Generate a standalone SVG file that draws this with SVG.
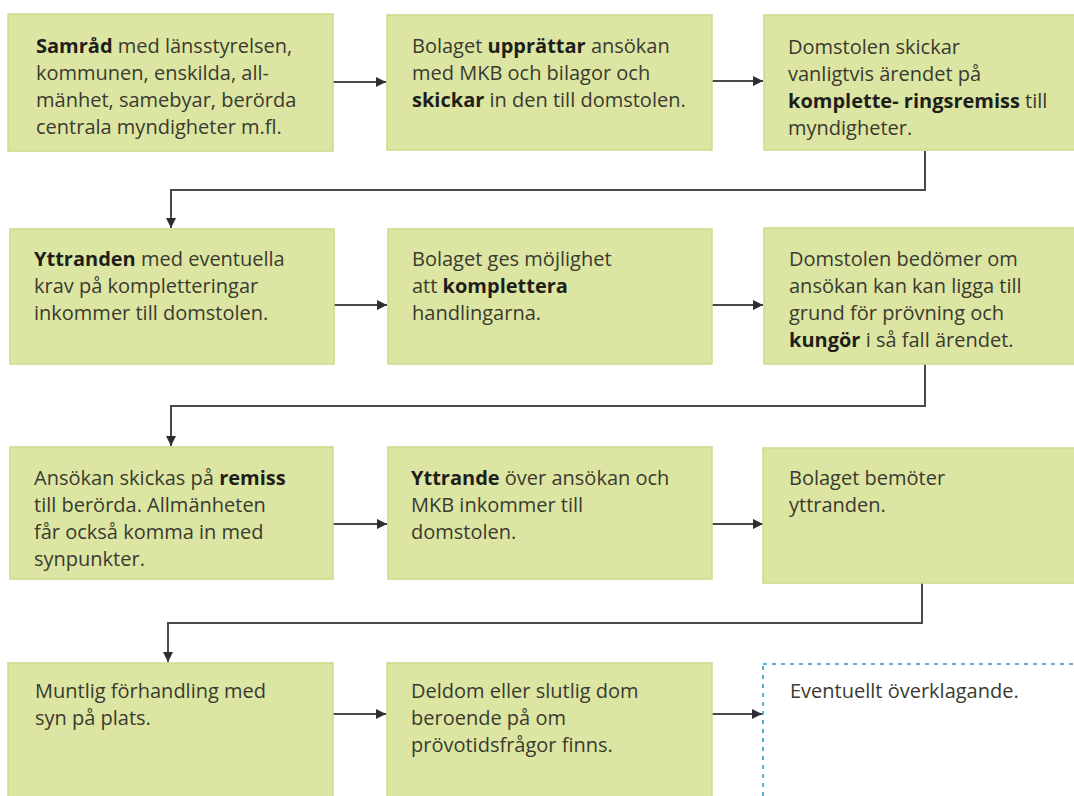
<svg xmlns="http://www.w3.org/2000/svg" width="1074" height="796" viewBox="0 0 1074 796">
<defs>
<style>
.box{fill:#dce6a2;stroke:#cbdb8a;stroke-width:1.5}
.dbox{fill:#ffffff;stroke:#5aaed8;stroke-width:2;stroke-dasharray:4 5}
.t{font-family:"Open Sans","Noto Sans","Liberation Sans",sans-serif;font-size:20px;fill:#3a3a30}
.b{font-weight:bold;fill:#1e1e1a}
.c{fill:none;stroke:#4a4a4a;stroke-width:2}
</style>
<marker id="ah" viewBox="0 0 10 10" refX="10" refY="5" markerWidth="5" markerHeight="5" orient="auto" markerUnits="strokeWidth">
<path d="M0,0 L10,5 L0,10 z" fill="#2e2e2e"/>
</marker>
</defs>
<rect width="1074" height="796" fill="#ffffff"/>

<g id="connectors">
<line class="c" x1="333" y1="82" x2="386" y2="82" marker-end="url(#ah)"/>
<line class="c" x1="712" y1="81" x2="763" y2="81" marker-end="url(#ah)"/>
<polyline class="c" points="925,151 925,190 171,190 171,228" marker-end="url(#ah)"/>
<line class="c" x1="334" y1="305" x2="387" y2="305" marker-end="url(#ah)"/>
<line class="c" x1="712" y1="305" x2="763" y2="305" marker-end="url(#ah)"/>
<polyline class="c" points="925,364 925,406 171,406 171,446" marker-end="url(#ah)"/>
<line class="c" x1="333" y1="524" x2="387" y2="524" marker-end="url(#ah)"/>
<line class="c" x1="712" y1="524" x2="763" y2="524" marker-end="url(#ah)"/>
<polyline class="c" points="922,583 922,623 168,623 168,662" marker-end="url(#ah)"/>
<line class="c" x1="333" y1="714" x2="386" y2="714" marker-end="url(#ah)"/>
<line class="c" x1="712" y1="714" x2="762" y2="714" marker-end="url(#ah)"/>
</g>

<g id="n1">
<rect class="box" x="8" y="14" width="325" height="137"/>
<text class="t" x="36" y="53"><tspan class="b">Samråd</tspan> med länsstyrelsen,</text>
<text class="t" x="36" y="80">kommunen, enskilda, all-</text>
<text class="t" x="36" y="107">mänhet, samebyar, berörda</text>
<text class="t" x="36" y="134">centrala myndigheter m.fl.</text>
</g>
<g id="n2">
<rect class="box" x="387" y="15" width="325" height="135"/>
<text class="t" x="412" y="53">Bolaget <tspan class="b">upprättar</tspan> ansökan</text>
<text class="t" x="412" y="80">med MKB och bilagor och</text>
<text class="t" x="412" y="107"><tspan class="b">skickar</tspan> in den till domstolen.</text>
</g>
<g id="n3">
<rect class="box" x="764" y="15" width="320" height="135"/>
<text class="t" x="788" y="54">Domstolen skickar</text>
<text class="t" x="788" y="81">vanligtvis ärendet på</text>
<text class="t" x="788" y="108"><tspan class="b">komplette- ringsremiss</tspan> till</text>
<text class="t" x="788" y="135">myndigheter.</text>
</g>

<g id="n4">
<rect class="box" x="10" y="229" width="324" height="135"/>
<text class="t" x="34" y="266"><tspan class="b">Yttranden</tspan> med eventuella</text>
<text class="t" x="34" y="293">krav på kompletteringar</text>
<text class="t" x="34" y="320">inkommer till domstolen.</text>
</g>
<g id="n5">
<rect class="box" x="388" y="229" width="324" height="135"/>
<text class="t" x="412" y="266">Bolaget ges möjlighet</text>
<text class="t" x="412" y="293">att <tspan class="b">komplettera</tspan></text>
<text class="t" x="412" y="320">handlingarna.</text>
</g>
<g id="n6">
<rect class="box" x="764" y="228" width="320" height="136"/>
<text class="t" x="789" y="266">Domstolen bedömer om</text>
<text class="t" x="789" y="293">ansökan kan kan ligga till</text>
<text class="t" x="789" y="320">grund för prövning och</text>
<text class="t" x="789" y="347"><tspan class="b">kungör</tspan> i så fall ärendet.</text>
</g>

<g id="n7">
<rect class="box" x="10" y="447" width="323" height="132"/>
<text class="t" x="34" y="485">Ansökan skickas på <tspan class="b">remiss</tspan></text>
<text class="t" x="34" y="512">till berörda. Allmänheten</text>
<text class="t" x="34" y="539">får också komma in med</text>
<text class="t" x="34" y="566">synpunkter.</text>
</g>
<g id="n8">
<rect class="box" x="388" y="447" width="324" height="132"/>
<text class="t" x="411" y="485"><tspan class="b">Yttrande</tspan> över ansökan och</text>
<text class="t" x="411" y="512">MKB inkommer till</text>
<text class="t" x="411" y="539">domstolen.</text>
</g>
<g id="n9">
<rect class="box" x="763" y="448" width="321" height="135"/>
<text class="t" x="789" y="485">Bolaget bemöter</text>
<text class="t" x="789" y="512">yttranden.</text>
</g>

<g id="n10">
<rect class="box" x="8" y="663" width="325" height="150"/>
<text class="t" x="35" y="698">Muntlig förhandling med</text>
<text class="t" x="35" y="725">syn på plats.</text>
</g>
<g id="n11">
<rect class="box" x="387" y="663" width="325" height="150"/>
<text class="t" x="411" y="698">Deldom eller slutlig dom</text>
<text class="t" x="411" y="725">beroende på om</text>
<text class="t" x="411" y="752">prövotidsfrågor finns.</text>
</g>
<g id="n12">
<rect class="dbox" x="763" y="664" width="330" height="150"/>
<text class="t" x="790" y="698">Eventuellt överklagande.</text>
</g>
</svg>
